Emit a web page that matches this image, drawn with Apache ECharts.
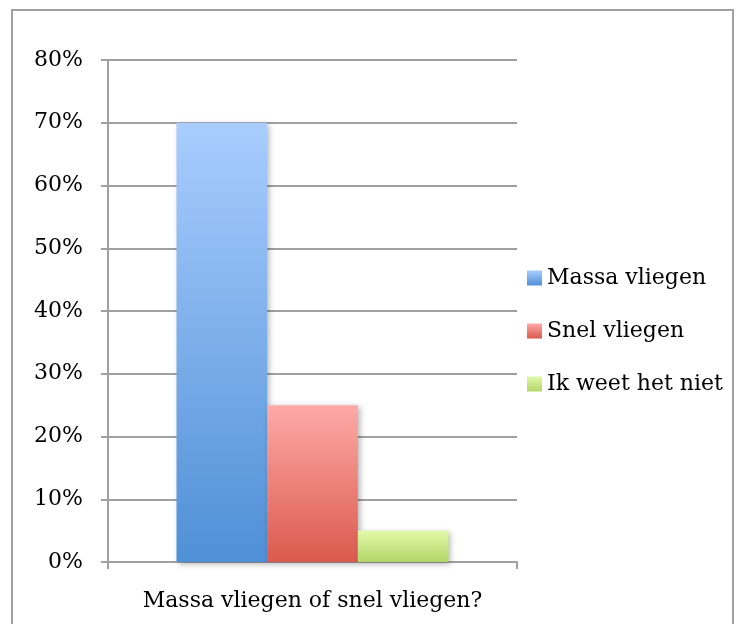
<!DOCTYPE html>
<html>
<head>
<meta charset="utf-8">
<script src="https://cdn.jsdelivr.net/npm/echarts@6/dist/echarts.min.js"></script>
<style>
html,body{margin:0;padding:0;background:#fff;}
#c{width:742px;height:624px;}
</style>
</head>
<body>
<div id="c"></div>
<script>
var categories = ['Massa vliegen of snel vliegen?'];
var seriesNames = ['Massa vliegen', 'Snel vliegen', 'Ik weet het niet'];
var massaValues = [70];
var snelValues = [25];
var weetNietValues = [5];
var yTicks = [0, 10, 20, 30, 40, 50, 60, 70, 80];

var FONT = 'DejaVu Serif';
function grad(top, bottom) {
  return new echarts.graphic.LinearGradient(0, 0, 0, 1, [
    {offset: 0, color: top}, {offset: 1, color: bottom}
  ]);
}
var colors = [
  grad('#a9cdfe', '#4f90d6'),
  grad('#fda9a7', '#db5a4d'),
  grad('#e1f9a9', '#b2d568')
];
var dataSets = [massaValues, snelValues, weetNietValues];

var chart = echarts.init(document.getElementById('c'), null, {renderer: 'canvas'});
var series = seriesNames.map(function (n, i) {
  return {
    name: n,
    type: 'bar',
    data: dataSets[i],
    barGap: '0%',
    barCategoryGap: '33.5%',
    itemStyle: {
      color: colors[i],
      shadowBlur: 6,
      shadowColor: 'rgba(0,0,0,0.3)',
      shadowOffsetX: 2,
      shadowOffsetY: 2
    }
  };
});

chart.setOption({
  animation: false,
  backgroundColor: '#fff',
  graphic: [{
    type: 'rect',
    shape: {x: 12, y: 10, width: 721, height: 640},
    style: {fill: 'none', stroke: '#a0a0a0', lineWidth: 2},
    z: -1
  }],
  grid: {left: 108, right: 225, top: 60, bottom: 62, containLabel: false},
  legend: {
    orient: 'vertical',
    left: 522,
    top: 262,
    itemWidth: 15,
    itemHeight: 15,
    itemGap: 31,
    icon: 'rect',
    data: seriesNames,
    textStyle: {fontFamily: FONT, fontSize: 22, color: '#000'}
  },
  xAxis: {
    type: 'category',
    data: categories,
    axisLine: {lineStyle: {color: '#a0a0a0', width: 2}},
    axisTick: {show: true, length: 7, lineStyle: {color: '#a0a0a0', width: 2}},
    axisLabel: {fontFamily: FONT, fontSize: 22, color: '#000', margin: 28}
  },
  yAxis: {
    type: 'value',
    min: yTicks[0],
    max: yTicks[yTicks.length - 1],
    interval: 10,
    axisLine: {show: true, lineStyle: {color: '#a0a0a0', width: 2}},
    axisTick: {show: true, length: 7, lineStyle: {color: '#a0a0a0', width: 2}},
    splitLine: {show: true, lineStyle: {color: '#a0a0a0', width: 2}},
    axisLabel: {fontFamily: FONT, fontSize: 22, color: '#000', margin: 25,
      formatter: function (v) { return v + '%'; }}
  },
  series: series
});
</script>
</body>
</html>
